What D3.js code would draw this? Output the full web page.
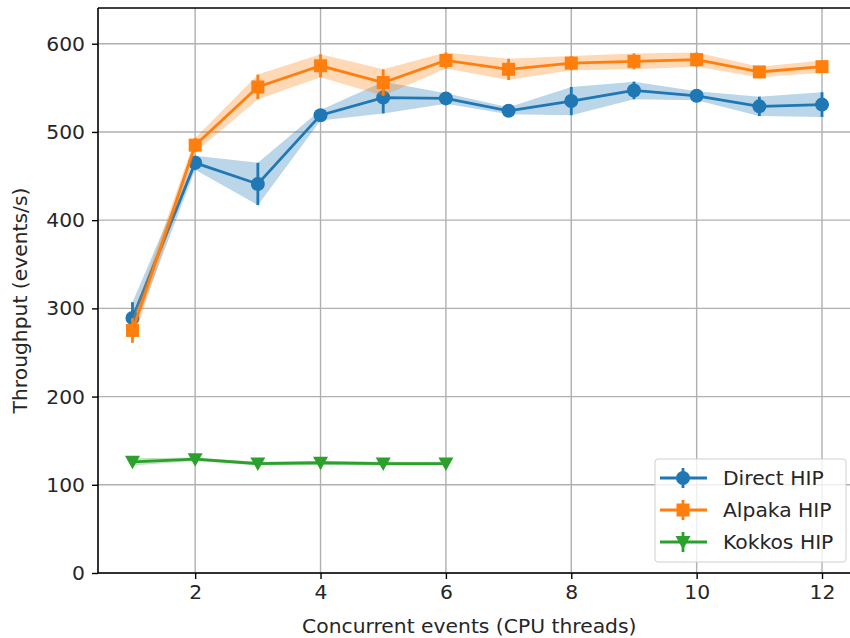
<!DOCTYPE html>
<html>
<head>
<meta charset="utf-8">
<script src="https://cdn.jsdelivr.net/npm/d3@7"></script>
<style>
  body { margin: 0; background: #fff; }
  svg text { font-family: "DejaVu Sans", sans-serif; fill: #262626; }
</style>
</head>
<body>
<svg id="chart" width="850" height="638"></svg>
<script>
const threads = [1,2,3,4,5,6,7,8,9,10,11,12];
const directHIP = [289,465,441,519,539,538,524,535,547,541,529,531];
const directErr = [18,8,24,6,18,6,4,16,10,5,11,14];
const alpakaHIP = [275,485,551,575,556,581,571,578,580,582,568,574];
const alpakaErr = [14,8,14,13,15,9,12,8,9,8,6,7];
const kokkosThreads = [1,2,3,4,5,6];
const kokkosHIP = [126,129,124,125,124,124];
const kokkosErr = [4,2,2,2,2,2];
const seriesNames = ["Direct HIP","Alpaka HIP","Kokkos HIP"];
const colors = ["#1f77b4","#ff7f0e","#2ca02c"];
const xTicks = [2,4,6,8,10,12];
const yTicks = [0,100,200,300,400,500,600];

(function () {
const svg = d3.select("#chart");
const pL = 98, pR = 856.5, pT = 8, pB = 573;
const FS = 20.3;
const x = d3.scaleLinear().domain([0.45, 12.55]).range([pL, pR]);
const y = d3.scaleLinear().domain([0, 640.5]).range([pB, pT]);

// grid
svg.append("g").selectAll("line").data(xTicks).join("line")
  .attr("x1", d => x(d)).attr("x2", d => x(d)).attr("y1", pT).attr("y2", pB)
  .attr("stroke", "#b0b0b0").attr("stroke-width", 1.4);
svg.append("g").selectAll("line").data(yTicks).join("line")
  .attr("x1", pL).attr("x2", pR).attr("y1", d => y(d)).attr("y2", d => y(d))
  .attr("stroke", "#b0b0b0").attr("stroke-width", 1.4);

const series = [
  {name: seriesNames[0], xs: threads, v: directHIP, e: directErr, color: colors[0], marker: "circle"},
  {name: seriesNames[1], xs: threads, v: alpakaHIP, e: alpakaErr, color: colors[1], marker: "square"},
  {name: seriesNames[2], xs: kokkosThreads, v: kokkosHIP, e: kokkosErr, color: colors[2], marker: "triangle"}
];

function drawMarker(g, type, cx, cy, color) {
  if (type === "circle") {
    g.append("circle").attr("cx", cx).attr("cy", cy).attr("r", 7).attr("fill", color);
  } else if (type === "square") {
    g.append("rect").attr("x", cx - 6.5).attr("y", cy - 6.5).attr("width", 13).attr("height", 13).attr("fill", color);
  } else {
    g.append("path").attr("d", `M${cx-7.5},${cy-6} L${cx+7.5},${cy-6} L${cx},${cy+7.5} Z`).attr("fill", color);
  }
}

const plot = svg.append("g");
series.forEach(s => {
  const pts = s.xs.map((t, i) => ({t, v: s.v[i], e: s.e[i]}));
  plot.append("path").datum(pts)
    .attr("d", d3.area().x(d => x(d.t)).y0(d => y(d.v - d.e)).y1(d => y(d.v + d.e)))
    .attr("fill", s.color).attr("fill-opacity", 0.3);
  plot.append("path").datum(pts)
    .attr("d", d3.line().x(d => x(d.t)).y(d => y(d.v)))
    .attr("fill", "none").attr("stroke", s.color).attr("stroke-width", 2.8);
  pts.forEach(d => {
    plot.append("line").attr("x1", x(d.t)).attr("x2", x(d.t))
      .attr("y1", y(d.v - d.e)).attr("y2", y(d.v + d.e))
      .attr("stroke", s.color).attr("stroke-width", 2.8);
    drawMarker(plot, s.marker, x(d.t), y(d.v), s.color);
  });
});

// spines
svg.append("line").attr("x1", pL).attr("x2", pL).attr("y1", pT).attr("y2", pB).attr("stroke", "#000").attr("stroke-width", 1.6);
svg.append("line").attr("x1", pL).attr("x2", pR).attr("y1", pB).attr("y2", pB).attr("stroke", "#000").attr("stroke-width", 1.6);
svg.append("line").attr("x1", pL).attr("x2", pR).attr("y1", pT).attr("y2", pT).attr("stroke", "#000").attr("stroke-width", 1.6);

// axes
const xAxis = d3.axisBottom(x).tickValues(xTicks).tickSize(6).tickPadding(6);
const yAxis = d3.axisLeft(y).tickValues(yTicks).tickSize(6).tickPadding(7);
const gx = svg.append("g").attr("transform", `translate(0,${pB})`).call(xAxis);
const gy = svg.append("g").attr("transform", `translate(${pL},0)`).call(yAxis);
[gx, gy].forEach(g => {
  g.select(".domain").remove();
  g.selectAll(".tick line").attr("stroke", "#000").attr("stroke-width", 1.4);
  g.selectAll(".tick text").attr("font-size", FS).attr("font-family", "DejaVu Sans").attr("fill", "#262626");
});

svg.append("text").attr("x", (pL + pR) / 2 - 8).attr("y", 633)
  .attr("text-anchor", "middle").attr("font-size", FS).text("Concurrent events (CPU threads)");
svg.append("text").attr("transform", `translate(27,${(pT + pB) / 2 + 10}) rotate(-90)`)
  .attr("text-anchor", "middle").attr("font-size", FS).text("Throughput (events/s)");

// legend
const lg = svg.append("g").attr("transform", "translate(655,459)");
lg.append("rect").attr("x", 0).attr("y", 0).attr("width", 191).attr("height", 103).attr("rx", 3)
  .attr("fill", "#fff").attr("fill-opacity", 0.8).attr("stroke", "#d0d0d0");
series.forEach((s, i) => {
  const cy = 19 + i * 32;
  lg.append("line").attr("x1", 5).attr("x2", 52).attr("y1", cy).attr("y2", cy).attr("stroke", s.color).attr("stroke-width", 2.8);
  lg.append("line").attr("x1", 28).attr("x2", 28).attr("y1", cy - 10).attr("y2", cy + 10).attr("stroke", s.color).attr("stroke-width", 2.8);
  drawMarker(lg, s.marker, 28, cy, s.color);
  lg.append("text").attr("x", 68).attr("y", cy + 7).attr("font-size", FS).text(s.name);
});
})();
</script>
</body>
</html>
